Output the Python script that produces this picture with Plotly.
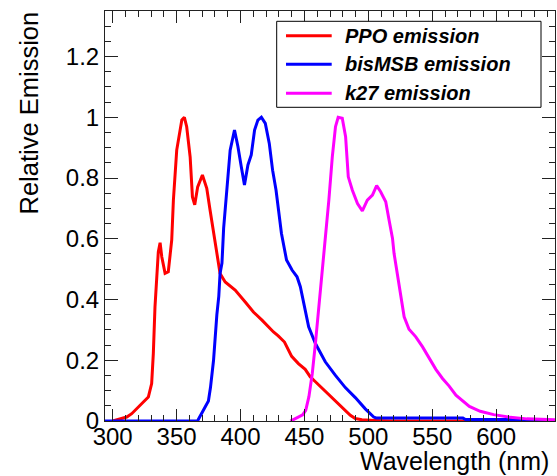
import plotly.graph_objects as go

# Emission spectra (wavelength in nm, relative emission normalised to peak = 1)
ppo_wl = [300, 311.0, 314.9, 324.0, 327.9, 330.5, 331.8, 333.1, 334.5, 335.7, 337.1,
          338.4, 341.0, 343.5, 346.2, 347.5, 350.1, 351.4, 354.1, 356.1, 357.9, 360.6,
          362.4, 364.2, 366.5, 370.2, 373.6, 376.2, 378.9, 381.4, 384.0, 388.0, 395.8,
          403.7, 410.1, 416.8, 420.6, 425.8, 429.5, 434.4, 440.0, 445.3, 450.6, 454.6,
          458.4, 466.3, 474.1, 480.7, 485.9, 489.8, 495.0, 505.0, 520.0, 646.0]
ppo_em = [0.0, 0.013, 0.024, 0.063, 0.079, 0.123, 0.222, 0.376, 0.464, 0.557, 0.587,
          0.541, 0.486, 0.491, 0.596, 0.727, 0.892, 0.925, 0.991, 1.0, 0.969, 0.870,
          0.738, 0.712, 0.771, 0.810, 0.766, 0.694, 0.618, 0.552, 0.486, 0.458, 0.431,
          0.392, 0.359, 0.332, 0.315, 0.293, 0.280, 0.260, 0.213, 0.189, 0.170, 0.145,
          0.130, 0.099, 0.068, 0.041, 0.019, 0.008, 0.004, 0.002, 0.0, 0.0]

bis_wl = [294.0, 366.5, 367.0, 370.9, 373.6, 374.9, 376.5, 378.9, 381.5, 383.0, 384.0,
          385.5, 386.8, 389.3, 391.9, 395.3, 398.0, 400.6, 403.1, 405.8, 408.4, 411.0,
          413.6, 416.3, 419.4, 422.5, 425.1, 427.8, 429.9, 432.0, 434.5, 436.0, 440.3,
          444.2, 446.8, 449.4, 453.3, 458.6, 466.3, 474.1, 482.0, 489.8, 497.6, 504.2,
          506.0, 574.0, 576.0, 626.0, 628.0, 646.0]
bis_em = [0.0, 0.0, 0.005, 0.035, 0.057, 0.066, 0.110, 0.200, 0.350, 0.410, 0.486,
          0.520, 0.635, 0.771, 0.892, 0.958, 0.903, 0.837, 0.777, 0.843, 0.876, 0.958,
          0.991, 1.0, 0.980, 0.914, 0.826, 0.760, 0.684, 0.618, 0.563, 0.530, 0.497,
          0.475, 0.442, 0.387, 0.310, 0.255, 0.195, 0.151, 0.110, 0.077, 0.040, 0.013,
          0.010, 0.0095, 0.005, 0.005, 0.0, 0.0]

k27_wl = [439.0, 440.2, 448.6, 451.0, 453.5, 456.1, 458.7, 461.3, 463.9, 466.5, 469.1,
          471.8, 474.3, 476.4, 479.6, 482.2, 484.3, 487.5, 491.5, 495.3, 499.2, 503.2,
          506.5, 509.6, 513.6, 516.2, 518.9, 520.1, 522.7, 525.3, 528.0, 531.8, 537.1,
          542.4, 547.5, 552.8, 558.0, 563.2, 568.5, 575.0, 579.0, 587.5, 598.0, 611.0,
          624.0, 646.0]
k27_em = [0.0, 0.002, 0.020, 0.035, 0.080, 0.155, 0.260, 0.375, 0.500, 0.610, 0.727,
          0.870, 0.969, 1.0, 0.997, 0.936, 0.804, 0.760, 0.716, 0.692, 0.727, 0.744,
          0.775, 0.755, 0.722, 0.662, 0.601, 0.552, 0.486, 0.420, 0.343, 0.302, 0.277,
          0.244, 0.208, 0.170, 0.140, 0.115, 0.085, 0.061, 0.048, 0.032, 0.021, 0.012,
          0.007, 0.004]

series_names = ["PPO emission", "bisMSB emission", "k27 emission"]
series_colors = ["#ff0000", "#0000ff", "#ff00ff"]
series_x = [ppo_wl, bis_wl, k27_wl]
series_y = [ppo_em, bis_em, k27_em]

x_range = [294, 646]
y_range = [0, 1.35]
x_ticks = [300, 350, 400, 450, 500, 550, 600]
y_ticks = [0, 0.2, 0.4, 0.6, 0.8, 1.0, 1.2]
y_ticklabels = ["0", "0.2", "0.4", "0.6", "0.8", "1", "1.2"]

W, H = 557, 476
ML, MR, MT, MB = 105, 2, 11, 55
PW, PH = W - ML - MR, H - MT - MB


def px_x(p):
    return (p - ML) / PW


def px_y(p):
    return (H - MB - p) / PH


FONT = "Liberation Sans, Arial, Helvetica, sans-serif"

fig = go.Figure()
for name, col, xs, ys in zip(series_names, series_colors, series_x, series_y):
    fig.add_trace(go.Scatter(x=xs, y=ys, mode="lines", name=name,
                             line=dict(color=col, width=3), showlegend=False))

axis_common = dict(showline=True, linecolor="#222222", linewidth=1, mirror="ticks",
                   ticks="inside", tickcolor="#222222", tickwidth=1,
                   showgrid=False, zeroline=False,
                   tickfont=dict(family=FONT, size=24, color="black"))

fig.update_xaxes(range=x_range, tickvals=x_ticks, ticktext=[str(t) for t in x_ticks],
                 ticklen=12, ticklabelstandoff=-6,
                 minor=dict(dtick=10, tick0=300, ticklen=6, ticks="inside",
                            tickcolor="#222222", tickwidth=1, showgrid=False),
                 **axis_common)
fig.update_yaxes(range=y_range, tickvals=y_ticks, ticktext=y_ticklabels,
                 ticklen=13,
                 minor=dict(dtick=0.05, tick0=0, ticklen=6, ticks="inside",
                            tickcolor="#222222", tickwidth=1, showgrid=False),
                 **axis_common)

# Legend box with line samples
shapes = [dict(type="rect", xref="paper", yref="paper",
               x0=px_x(276.7), x1=px_x(541), y0=px_y(107.3), y1=px_y(21.3),
               line=dict(color="black", width=1), fillcolor="white", layer="above")]
annotations = []
row_y = [35.7, 64.3, 93.3]
for name, col, ry in zip(series_names, series_colors, row_y):
    shapes.append(dict(type="line", xref="paper", yref="paper",
                       x0=px_x(286), x1=px_x(331.7), y0=px_y(ry), y1=px_y(ry),
                       line=dict(color=col, width=3), layer="above"))
    annotations.append(dict(text=name, xref="paper", yref="paper",
                            x=px_x(342.7), y=px_y(ry), xanchor="left", yanchor="middle",
                            showarrow=False,
                            font=dict(family=FONT, size=20, color="black",
                                      weight="bold", style="italic")))

annotations.append(dict(text="Relative Emission", xref="paper", yref="paper",
                        x=px_x(28), y=px_y(10), xanchor="center", yanchor="top",
                        textangle=-90, showarrow=False,
                        font=dict(family=FONT, size=25.5, color="black")))
annotations.append(dict(text="Wavelength (nm)", xref="paper", yref="paper",
                        x=px_x(550), y=px_y(476), xanchor="right", yanchor="bottom",
                        showarrow=False, borderpad=0,
                        font=dict(family=FONT, size=25, color="black")))

fig.update_layout(width=W, height=H, margin=dict(l=ML, r=MR, t=MT, b=MB),
                  paper_bgcolor="white", plot_bgcolor="white",
                  shapes=shapes, annotations=annotations, showlegend=False)

fig.write_html("out.html", config={"displayModeBar": False})
